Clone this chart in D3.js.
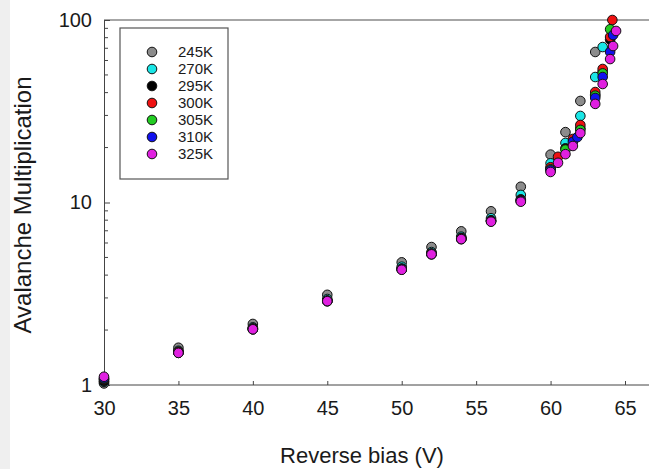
<!DOCTYPE html>
<html>
<head>
<meta charset="utf-8">
<script src="https://cdn.jsdelivr.net/npm/d3@7"></script>
<style>
  body { margin: 0; background: #fff; }
  svg { display: block; font-family: "Liberation Sans", Arial, sans-serif; }
</style>
</head>
<body>
<svg id="vis" width="649" height="469"></svg>
<script>
// temperatures shown in the legend
const temps = ['245K', '270K', '295K', '300K', '305K', '310K', '325K'];
const colors = ['#8c8c8c', '#19e6e6', '#000000', '#ee1111', '#22cc22', '#1111ee', '#e020e0'];

// bias points (V) and multiplication for each temperature
const v245 = [30, 35, 40, 45, 50, 52, 54, 56, 58, 60, 61, 62, 63];
const m245 = [1.02, 1.6, 2.16, 3.12, 4.7, 5.7, 6.95, 8.95, 12.2, 18.3, 24.3, 36.0, 66.8];
const v270 = [30, 35, 40, 45, 50, 52, 54, 56, 58, 60, 61, 62, 63, 63.5];
const m270 = [1.04, 1.54, 2.07, 2.96, 4.45, 5.35, 6.5, 8.2, 11.0, 16.4, 21.2, 29.8, 48.7, 71.1];
const v295 = [30, 35, 40, 45, 50, 52, 54, 56, 58, 60, 61, 62, 63, 63.5, 64];
const m295 = [1.05, 1.52, 2.04, 2.9, 4.35, 5.25, 6.4, 8.0, 10.4, 15.4, 19.8, 25.5, 39.0, 52.0, 78.0];
const v300 = [30, 35, 40, 45, 50, 52, 54, 56, 58, 60, 60.5, 61.5, 62, 63, 63.5, 64, 64.15];
const m300 = [1.07, 1.52, 2.04, 2.9, 4.32, 5.25, 6.35, 7.95, 10.3, 15.6, 17.8, 22.3, 26.6, 40.3, 53.9, 80.7, 100];
const v305 = [30, 35, 40, 45, 50, 52, 54, 56, 58, 60, 61, 62, 63, 63.5, 64];
const m305 = [1.08, 1.5, 2.02, 2.88, 4.3, 5.22, 6.32, 7.9, 10.2, 15.2, 19.5, 25.0, 38.5, 51.0, 89.0];
const v310 = [30, 35, 40, 45, 50, 52, 54, 56, 58, 60, 61.5, 61.8, 63, 63.5, 64, 64.2];
const m310 = [1.09, 1.5, 2.02, 2.88, 4.3, 5.2, 6.3, 7.9, 10.2, 15.0, 21.5, 22.8, 37.4, 48.7, 66.8, 82.7];
const v325 = [30, 35, 40, 45, 50, 52, 54, 56, 58, 60, 60.5, 61, 61.5, 62, 63, 63.5, 64, 64.2, 64.4];
const m325 = [1.11, 1.5, 2.02, 2.88, 4.28, 5.2, 6.3, 7.85, 10.1, 14.7, 16.5, 18.4, 20.4, 24.0, 34.7, 44.6, 61.1, 72.0, 87.1];

const xTicks = [30, 35, 40, 45, 50, 55, 60, 65];
const yTicks = [1, 10, 100];

const volts = [v245, v270, v295, v300, v305, v310, v325];
const mults = [m245, m270, m295, m300, m305, m310, m325];
const series = temps.map((t, i) => ({
  name: t,
  color: colors[i],
  points: volts[i].map((v, j) => ({ v: v, m: mults[i][j] }))
}));

const vis = d3.select('#vis');
const W = 649, H = 469;
const plotLeft = 104, plotTop = 20, plotBottom = 385;

// light grey strip on the left edge of the picture
vis.append('rect').attr('x', 0).attr('y', 0).attr('width', 10).attr('height', H).attr('fill', '#efefef');

const x = d3.scaleLinear().domain([30, 65]).range([plotLeft, 625]);
const y = d3.scaleLog().domain([1, 100]).range([plotBottom, plotTop]);

// frame: top line runs off the right edge
vis.append('line')
  .attr('x1', plotLeft).attr('x2', W).attr('y1', plotTop).attr('y2', plotTop)
  .attr('stroke', '#888').attr('stroke-width', 1.5);

// x axis, ticks pointing inwards
const xAxis = vis.append('g')
  .attr('transform', `translate(0,${plotBottom})`)
  .call(d3.axisBottom(x).tickValues(xTicks).tickSizeInner(-4).tickSizeOuter(0).tickPadding(15));
xAxis.select('.domain').attr('d', `M${plotLeft},0H${W}`).attr('stroke', '#444');
xAxis.selectAll('.tick line').attr('stroke', '#444');
xAxis.selectAll('.tick text').attr('font-size', 20).attr('fill', '#1a1a1a').attr('dy', '0.75em');

// y axis: majors with labels, minors as short inward ticks
const minors = [];
[1, 10].forEach(d => { for (let k = 2; k <= 9; k++) minors.push(d * k); });

const yAxis = vis.append('g')
  .attr('transform', `translate(${plotLeft},0)`)
  .call(d3.axisLeft(y).tickValues(yTicks).tickFormat(d3.format('d')).tickSizeInner(-6).tickSizeOuter(0).tickPadding(12));
yAxis.select('.domain').attr('stroke', '#444');
yAxis.selectAll('.tick line').attr('stroke', '#444');
yAxis.selectAll('.tick text').attr('font-size', 20).attr('fill', '#1a1a1a');

yAxis.selectAll('line.minor').data(minors).enter()
  .append('line').classed('minor', true)
  .attr('x1', 0).attr('x2', 4)
  .attr('y1', d => y(d)).attr('y2', d => y(d))
  .attr('stroke', '#444');

// axis titles
vis.append('text')
  .attr('x', 362).attr('y', 463)
  .attr('text-anchor', 'middle').attr('font-size', 22).attr('fill', '#1a1a1a')
  .text('Reverse bias (V)');

vis.append('text')
  .attr('transform', 'translate(31,205) rotate(-90)')
  .attr('text-anchor', 'middle').attr('font-size', 24).attr('fill', '#1a1a1a')
  .text('Avalanche Multiplication');

// data points, later temperatures drawn on top
const groups = vis.selectAll('g.series').data(series).enter()
  .append('g').classed('series', true);

groups.selectAll('circle').data(d => d.points.map(p => ({ p: p, color: d.color }))).enter()
  .append('circle')
    .attr('cx', d => x(d.p.v))
    .attr('cy', d => y(d.p.m))
    .attr('r', 4.8)
    .attr('fill', d => d.color)
    .attr('stroke', '#111')
    .attr('stroke-width', 1);

// legend
const legend = vis.append('g');
legend.append('rect')
  .attr('x', 120).attr('y', 28).attr('width', 108).attr('height', 151)
  .attr('fill', '#fff').attr('stroke', '#555').attr('stroke-width', 1.2);

const rows = legend.selectAll('g.row').data(series).enter()
  .append('g').classed('row', true)
  .attr('transform', (d, i) => `translate(0,${52 + i * 17})`);

rows.append('circle')
  .attr('cx', 152).attr('cy', 0).attr('r', 4.8)
  .attr('fill', d => d.color).attr('stroke', '#111');

rows.append('text')
  .attr('x', 178).attr('y', 0).attr('dy', '0.35em')
  .attr('font-size', 15).attr('fill', '#1a1a1a')
  .text(d => d.name);
</script>
</body>
</html>
